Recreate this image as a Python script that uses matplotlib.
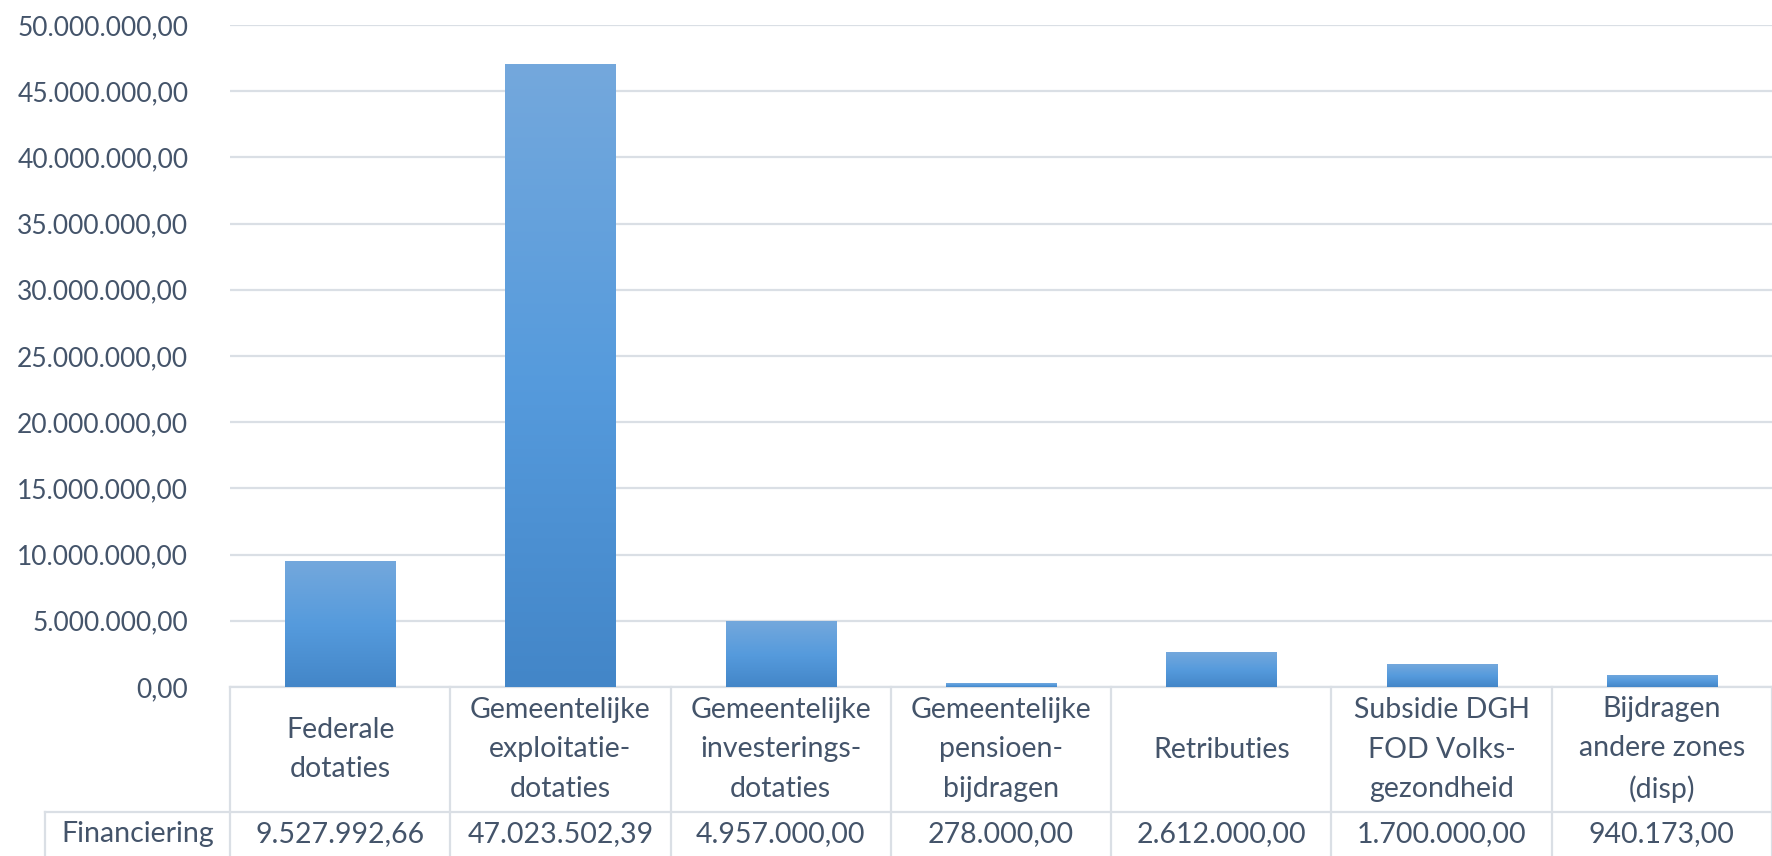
import numpy as np
import matplotlib
matplotlib.use('Agg')
import matplotlib.pyplot as plt
from matplotlib.colors import LinearSegmentedColormap
from matplotlib.transforms import blended_transform_factory

# data
categories = ['Federale\ndotaties', 'Gemeentelijke\nexploitatie-\ndotaties',
              'Gemeentelijke\ninvesterings-\ndotaties', 'Gemeentelijke\npensioen-\nbijdragen',
              'Retributies', 'Subsidie DGH\nFOD Volks-\ngezondheid',
              'Bijdragen\nandere zones\n(disp)']
financiering = [9527992.66, 47023502.39, 4957000.00, 278000.00,
                2612000.00, 1700000.00, 940173.00]
series_name = 'Financiering'
y_ticks = np.arange(0, 50000001, 5000000)

text_col = '#44546A'
line_col = '#DADFE5'
fs = 19      # tick labels
fs_tab = 20.5  # data table
plt.rcParams['font.family'] = ['Lato', 'DejaVu Sans']


def nl(v):
    s = f"{v:,.2f}"
    return s.replace(',', 'X').replace('.', ',').replace('X', '.')


W, H = 1772, 856
fig = plt.figure(figsize=(W / 100, H / 100), dpi=100)
left, right, top, bottom = 230, 1772, 25, 687
ax = fig.add_axes([left / W, 1 - bottom / H, (right - left) / W, (bottom - top) / H])

x = np.arange(len(categories))
cmap = LinearSegmentedColormap.from_list('bar', ['#4386C8', '#569BDD', '#74A8DC'])
grad = np.linspace(1, 0, 256).reshape(-1, 1)
bars = ax.bar(x, financiering, width=0.5, color='none', edgecolor='none', zorder=3)
for b in bars:
    im = ax.imshow(grad, cmap=cmap, aspect='auto', interpolation='bilinear',
                   extent=[b.get_x(), b.get_x() + b.get_width(), 0, b.get_height()],
                   zorder=3)
    im.set_clip_path(b)

ax.set_xlim(-0.5, len(categories) - 0.5)
ax.set_ylim(0, 50000000)
ax.set_yticks(y_ticks)
ax.set_yticklabels([nl(v) for v in y_ticks])
ax.set_xticks([])
ax.tick_params(axis='y', length=0, pad=30, labelsize=fs, labelcolor=text_col)
ax.grid(axis='y', color=line_col, lw=1.6, zorder=0)
for sp in ax.spines.values():
    sp.set_visible(False)

# data table below the axis
tr = blended_transform_factory(ax.transData, ax.transAxes)
ph = bottom - top
r1 = -125 / ph
r2 = -(H - bottom) / ph
lab_x = -0.5 - 185 / ((right - left) / len(categories))
kw = dict(color=line_col, lw=1.6, transform=tr, clip_on=False)
ax.plot([-0.5, len(categories) - 0.5], [0, 0], **kw)
ax.plot([lab_x, len(categories) - 0.5], [r1, r1], **kw)
ax.plot([lab_x, lab_x], [r1, r2], **kw)
for i in range(len(categories) + 1):
    ax.plot([i - 0.5, i - 0.5], [0, r2], **kw)
for i, (c, v) in enumerate(zip(categories, financiering)):
    ax.text(i, r1 / 2, c, transform=tr, ha='center', va='center', fontsize=fs_tab,
            color=text_col, linespacing=1.65)
    ax.text(i, (r1 + r2) / 2, nl(v), transform=tr, ha='center', va='center',
            fontsize=fs_tab, color=text_col)
ax.text((lab_x - 0.5) / 2, (r1 + r2) / 2, series_name, transform=tr, ha='center',
        va='center', fontsize=fs_tab, color=text_col)

fig.savefig('out.png', dpi=100)
